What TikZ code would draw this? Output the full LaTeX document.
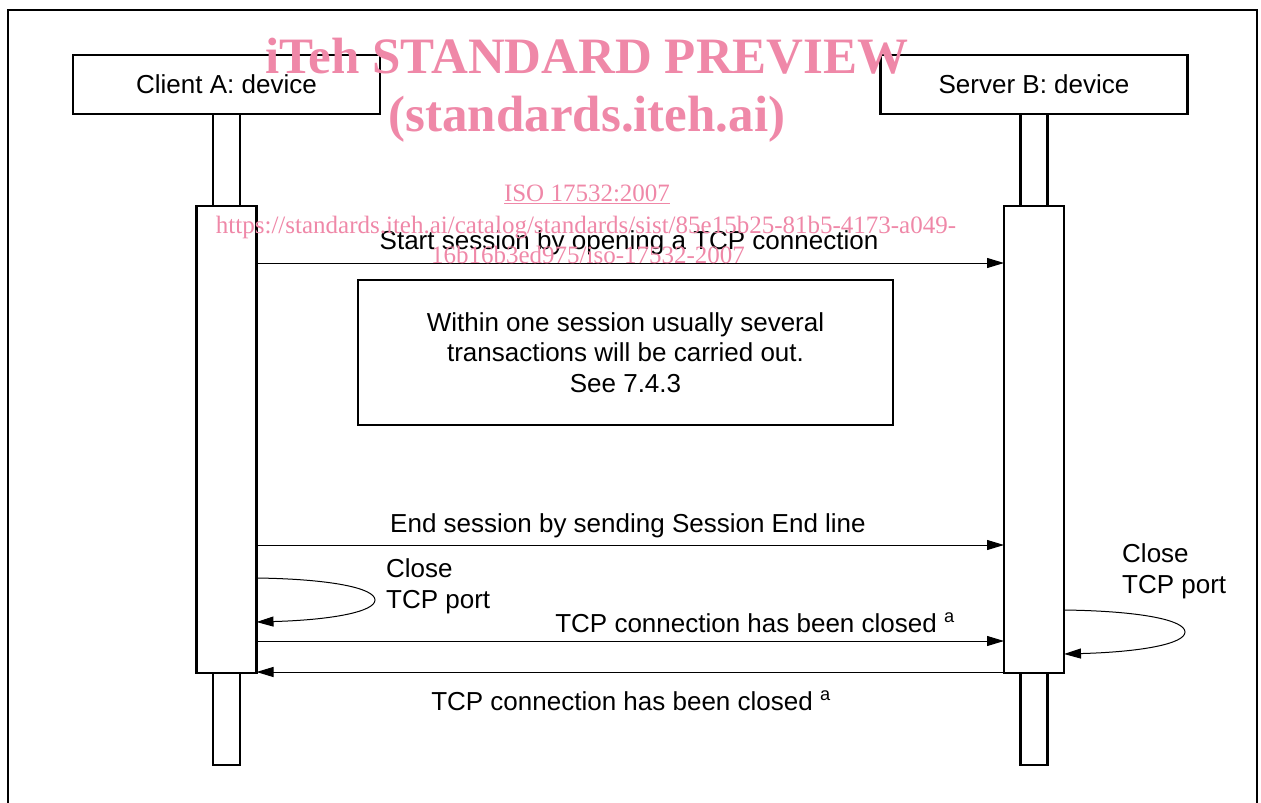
\documentclass[tikz,border=0pt]{standalone}
\usepackage{fontspec}
\setmainfont{Liberation Sans}
\newfontfamily\wmfont{Liberation Serif}
\usetikzlibrary{arrows.meta}
\definecolor{wmpink}{RGB}{239,136,168}
\tikzset{
  objbox/.style={draw, line width=2.4pt, outer sep=0pt, minimum width=307pt, minimum height=59pt, inner sep=0pt, font=\fontsize{26}{31}\selectfont},
  lifebar/.style={draw, line width=2.4pt, outer sep=0pt, fill=white, minimum width=27pt, minimum height=92pt, inner sep=0pt},
  actbar/.style={draw, line width=2.2pt, outer sep=0pt, fill=white, minimum width=60pt, minimum height=467pt, inner sep=0pt},
  notebox/.style={draw, line width=2pt, minimum width=535pt, minimum height=145pt, align=center, font=\fontsize{26}{30.5}\selectfont},
  msg/.style={line width=1pt, -{Triangle[length=17pt,width=10pt]}},
  msglabel/.style={inner sep=0pt, font=\fontsize{26}{31}\selectfont},
  wmark/.style={inner sep=0pt, text=wmpink}
}
\begin{document}
\begin{tikzpicture}[x=1pt,y=-1pt]
  \useasboundingbox (0,0) rectangle (1261,803);
  % frame
  \draw[line width=2pt] (8,803) |- (1257,10) -- (1257,803);

  % objects and their lifelines
  \node[objbox] (clientA) at (226.5,84.5) {Client A: device};
  \node[objbox] (serverB) at (1034,84.5) {Server B: device};

  \node[lifebar, anchor=north] (lifeAtop) at (clientA.south) {};
  \node[actbar, anchor=north] (actA) at (lifeAtop.south) {};
  \node[lifebar, anchor=north] (lifeAbot) at (actA.south) {};

  \node[lifebar, anchor=north] (lifeBtop) at (serverB.south) {};
  \node[actbar, anchor=north] (actB) at (lifeBtop.south) {};
  \node[lifebar, anchor=north] (lifeBbot) at (actB.south) {};

  % message rows
  \coordinate (rowStart) at (0,263);
  \coordinate (rowEnd) at (0,545);
  \coordinate (rowLoopA) at (0,578);
  \coordinate (rowLoopAback) at (0,622);
  \coordinate (rowClosedA) at (0,641);
  \coordinate (rowLoopB) at (0,610);
  \coordinate (rowLoopBback) at (0,654);
  \coordinate (rowClosedB) at (0,672);

  % note
  \node[notebox] (note) at (625.5,352.5) {Within one session usually several\\transactions will be carried out.\\See 7.4.3};

  % messages
  \draw[msg] (actA.east |- rowStart) -- (actB.west |- rowStart);
  \node[msglabel, anchor=base] (lblStart) at (629,249) {Start session by opening a TCP connection};

  \draw[msg] (actA.east |- rowEnd) -- (actB.west |- rowEnd);
  \node[msglabel, anchor=base] (lblEnd) at (628,532) {End session by sending Session End line};

  \draw[msg] (actA.east |- rowLoopA) .. controls (330,579) and (375,588) .. (375,600)
     .. controls (375,612) and (330,620) .. (actA.east |- rowLoopAback);
  \node[msglabel, anchor=north west, align=left] (lblPortA) at (386,558) {Close\\TCP port};

  \draw[msg] (actA.east |- rowClosedA) -- (actB.west |- rowClosedA);
  \node[msglabel, anchor=base] (lblClosedA) at (755,632) {TCP connection has been closed~\textsuperscript{a}};

  \draw[msg] (actB.east |- rowLoopB) .. controls (1140,611) and (1185,620) .. (1185,632)
     .. controls (1185,644) and (1140,652) .. (actB.east |- rowLoopBback);
  \node[msglabel, anchor=north west, align=left] (lblPortB) at (1122,543) {Close\\TCP port};

  \draw[msg] (actB.west |- rowClosedB) -- (actA.east |- rowClosedB);
  \node[msglabel, anchor=base] (lblClosedB) at (631,710) {TCP connection has been closed~\textsuperscript{a}};

  % watermark
  \node[wmark, anchor=base, font=\wmfont\bfseries\fontsize{51}{51}\selectfont] (wmTitle) at (587,73) {iTeh STANDARD PREVIEW};
  \node[wmark, anchor=base, font=\wmfont\bfseries\fontsize{51}{51}\selectfont] (wmSite) at (587,131) {(standards.iteh.ai)};
  \node[wmark, anchor=base, font=\wmfont\fontsize{25}{25}\selectfont] (wmIso) at (587,201) {\underline{ISO 17532:2007}};
  \node[wmark, anchor=base, font=\wmfont\fontsize{25}{25}\selectfont] (wmUrlA) at (586,233) {https://standards.iteh.ai/catalog/standards/sist/85e15b25-81b5-4173-a049-};
  \node[wmark, anchor=base, font=\wmfont\fontsize{25}{25}\selectfont] (wmUrlB) at (588,263) {16b16b3ed975/iso-17532-2007};
\end{tikzpicture}
\end{document}
